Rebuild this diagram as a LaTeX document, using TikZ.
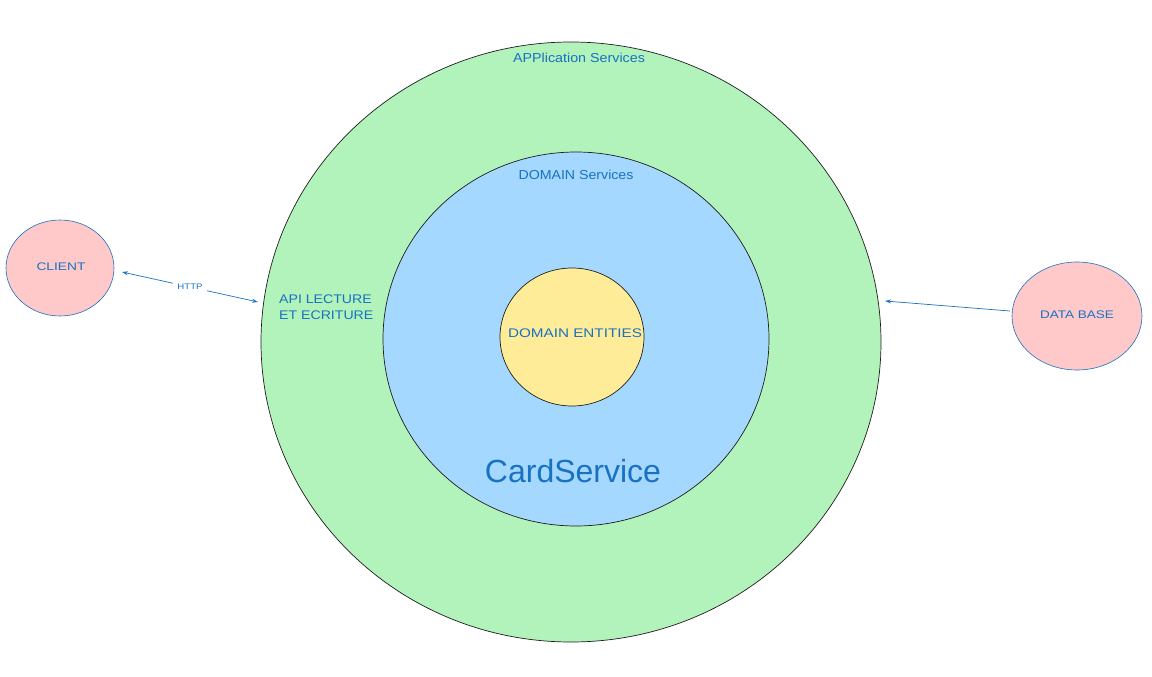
\documentclass[tikz,border=0pt]{standalone}
\usepackage{fontspec}
\usepackage{graphicx}
\setmainfont{Liberation Sans}
\usetikzlibrary{arrows.meta}
\definecolor{txtblue}{HTML}{1971C2}
\definecolor{gfill}{HTML}{B2F2BB}
\definecolor{bfill}{HTML}{A5D8FF}
\definecolor{yfill}{HTML}{FFEC99}
\definecolor{pfill}{HTML}{FFC9C9}
\definecolor{stroke}{HTML}{1E1E1E}
\newcommand{\wide}[2]{\scalebox{#1}[1]{#2}}
\tikzset{
  ring/.style={draw=stroke, line width=0.7pt},
  lbl/.style={text=txtblue, inner sep=0pt},
  ext/.style={draw=txtblue, line width=0.6pt, fill=pfill},
  conn/.style={draw=txtblue, line width=0.7pt, -{Stealth[length=6pt,width=4pt,open]}},
}
\begin{document}
\begin{tikzpicture}[x=1pt,y=-1pt]
\useasboundingbox (0,0) rectangle (1152,677);
% rings
\filldraw[ring, fill=gfill] (571,342) ellipse [x radius=310, y radius=300];
\filldraw[ring, fill=bfill] (576,339) ellipse [x radius=193, y radius=187];
\filldraw[ring, fill=yfill] (572,337) ellipse [x radius=72, y radius=69];
% external nodes
\filldraw[ext] (60,268) ellipse [x radius=54, y radius=48];
\filldraw[ext] (1077,316) ellipse [x radius=65, y radius=54];
\coordinate (clientE) at (122,272);
\coordinate (apiW) at (258,302);
\coordinate (dbW) at (1010,311);
\coordinate (appE) at (885,301);
% labels
\node[lbl, font=\fontsize{11}{13}\selectfont] (client) at (61,267) {\wide{1.25}{CLIENT}};
\node[lbl, font=\fontsize{11}{13}\selectfont] (db) at (1077,315) {\wide{1.23}{DATA BASE}};
\node[lbl, font=\fontsize{13}{15}\selectfont] (app) at (579,58) {\wide{1.1}{APPlication Services}};
\node[lbl, font=\fontsize{13}{15}\selectfont] (dom) at (576,175) {\wide{1.09}{DOMAIN Services}};
\node[lbl, font=\fontsize{12.5}{16}\selectfont, align=left, anchor=west] (api) at (279,307) {\wide{1.13}{API LECTURE}\\\wide{1.13}{ET ECRITURE}};
\node[lbl, font=\fontsize{12.5}{15}\selectfont] (ent) at (575,333) {\wide{1.22}{DOMAIN ENTITIES}};
\node[lbl, font=\fontsize{32}{36}\selectfont] (card) at (573,471) {CardService};
% connectors
\draw[conn, {Stealth[length=6pt,width=4pt,open]}-{Stealth[length=6pt,width=4pt,open]}] (clientE) -- node[fill=white, text=txtblue, font=\fontsize{8}{9}\selectfont, inner sep=4pt] (http) {\wide{1.2}{HTTP}} (apiW);
\draw[conn] (dbW) -- (appE);
\end{tikzpicture}
\end{document}
